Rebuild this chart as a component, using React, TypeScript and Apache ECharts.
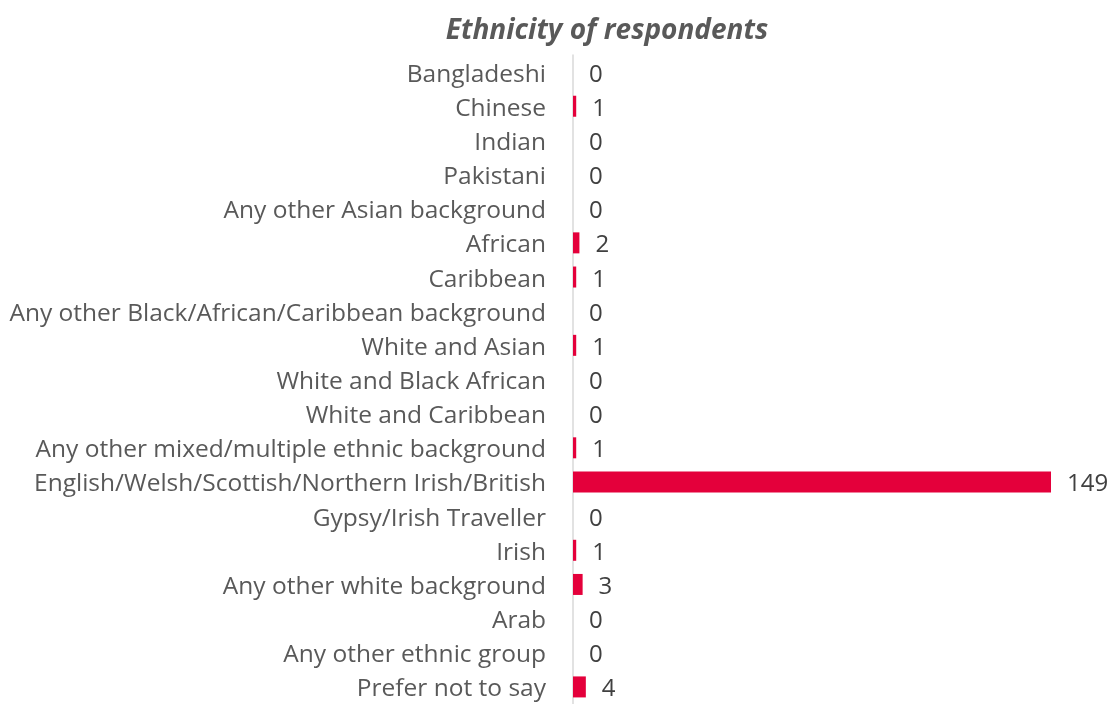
import React, { useEffect, useRef } from "react";
import * as echarts from "echarts";

const categories = [
  "Bangladeshi",
  "Chinese",
  "Indian",
  "Pakistani",
  "Any other Asian background",
  "African",
  "Caribbean",
  "Any other Black/African/Caribbean background",
  "White and Asian",
  "White and Black African",
  "White and Caribbean",
  "Any other mixed/multiple ethnic background",
  "English/Welsh/Scottish/Northern Irish/British",
  "Gypsy/Irish Traveller",
  "Irish",
  "Any other white background",
  "Arab",
  "Any other ethnic group",
  "Prefer not to say",
];
const values = [0, 1, 0, 0, 0, 2, 1, 0, 1, 0, 0, 1, 149, 0, 1, 3, 0, 0, 4];

const FONT = "Open Sans";

export default function App() {
  const ref = useRef<HTMLDivElement>(null);
  useEffect(() => {
    const chart = echarts.init(ref.current!, undefined, { renderer: "svg" });
    chart.setOption({
      animation: false,
      title: {
        text: "Ethnicity of respondents",
        left: 602,
        top: 9,
        textAlign: "center",
        textStyle: {
          fontFamily: FONT,
          fontSize: 28,
          fontWeight: "bold",
          fontStyle: "italic",
          color: "#595959",
        },
      },
      grid: { left: 573, top: 55, width: 478, height: 655.2, containLabel: false },
      xAxis: {
        type: "value",
        min: 0,
        max: 149,
        show: false,
      },
      yAxis: {
        type: "category",
        data: categories,
        inverse: true,
        axisLine: { show: true, lineStyle: { color: "#d9d9d9", width: 1.5 } },
        axisTick: { show: false },
        axisLabel: {
          margin: 27,
          fontFamily: FONT,
          fontSize: 24.5,
          color: "#595959",
        },
      },
      series: [
        {
          type: "bar",
          data: values,
          barWidth: 21,
          itemStyle: { color: "#E4003B" },
          label: {
            show: true,
            position: "right",
            distance: 16,
            fontFamily: FONT,
            fontSize: 24,
            color: "#404040",
          },
        },
      ],
    });
    return () => chart.dispose();
  }, []);
  return (
    <div
      ref={ref}
      style={{ position: "fixed", left: 0, top: 0, width: 1111, height: 704 }}
    />
  );
}
